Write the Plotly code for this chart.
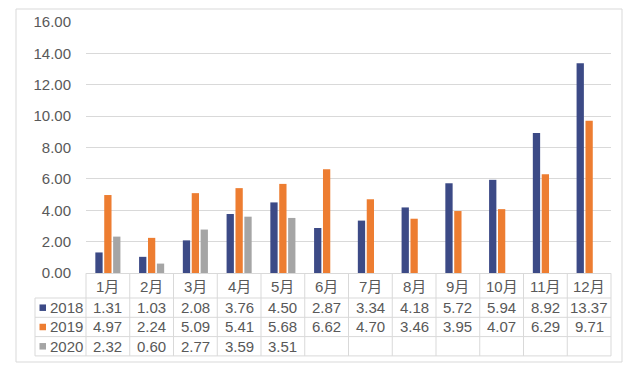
import plotly.graph_objects as go

months = ["1月", "2月", "3月", "4月", "5月", "6月", "7月", "8月", "9月", "10月", "11月", "12月"]
series_names = ["2018", "2019", "2020"]
v2018 = [1.31, 1.03, 2.08, 3.76, 4.50, 2.87, 3.34, 4.18, 5.72, 5.94, 8.92, 13.37]
v2019 = [4.97, 2.24, 5.09, 5.41, 5.68, 6.62, 4.70, 3.46, 3.95, 4.07, 6.29, 9.71]
v2020 = [2.32, 0.60, 2.77, 3.59, 3.51, None, None, None, None, None, None, None]
y_ticks = [0, 2, 4, 6, 8, 10, 12, 14, 16]

series = [v2018, v2019, v2020]
colors = ["#3C4A86", "#ED7D31", "#A5A5A5"]

W, H = 640, 365
ML, MR, MT, MB = 86, 29, 22, 92
PW = W - ML - MR
PH = H - MT - MB
FONT = "Liberation Sans, Arial, Noto Sans CJK SC, sans-serif"
TXT = "#595959"
LINE = "#D9D9D9"
FS = 15

def px_x(px):
    return (px - ML) / PW

def px_y(py):
    return (H - MB - py) / PH

n = len(months)
def cat_x(i):
    return (i + 0.5) / n

fig = go.Figure()
for name, vals, col in zip(series_names, series, colors):
    fig.add_trace(go.Bar(x=months, y=vals, name=name, marker_color=col,
                         marker_line_width=0, showlegend=False))

fig.update_layout(
    width=W, height=H,
    margin=dict(l=ML, r=MR, t=MT, b=MB, pad=0, autoexpand=False),
    paper_bgcolor="white", plot_bgcolor="white",
    barmode="group", bargap=0.39, bargroupgap=0.18,
    font=dict(family=FONT, size=FS, color=TXT),
    xaxis=dict(type="category", range=[-0.5, n - 0.5], showticklabels=False,
               showgrid=False, showline=True, linecolor=LINE, linewidth=1,
               ticks="", zeroline=False, automargin=False),
    yaxis=dict(range=[0, 16], tickvals=y_ticks, tickformat=".2f",
               showgrid=True, gridcolor=LINE, gridwidth=1, zeroline=False,
               showline=False, ticks="", ticklabelstandoff=14, automargin=False,
               tickfont=dict(size=FS, color=TXT)),
)

shapes = []
shapes.append(dict(type="rect", xref="paper", yref="paper",
                   x0=px_x(16), x1=px_x(622), y0=px_y(362), y1=px_y(9),
                   line=dict(color=LINE, width=1), fillcolor="rgba(0,0,0,0)", layer="below"))

TOP = 273.3
HEADER_H = 24.7
ROW_H = 19.3
row_edges = [TOP + HEADER_H + k * ROW_H for k in range(len(series_names) + 1)]
LEG_LEFT = 35
BOTTOM = row_edges[-1]

for k in range(n + 1):
    shapes.append(dict(type="line", xref="paper", yref="paper",
                       x0=k / n, x1=k / n, y0=px_y(TOP), y1=px_y(BOTTOM),
                       line=dict(color=LINE, width=1)))
shapes.append(dict(type="line", xref="paper", yref="paper",
                   x0=px_x(LEG_LEFT), x1=px_x(LEG_LEFT), y0=px_y(row_edges[0]), y1=px_y(BOTTOM),
                   line=dict(color=LINE, width=1)))
for e in row_edges:
    shapes.append(dict(type="line", xref="paper", yref="paper",
                       x0=px_x(LEG_LEFT), x1=1, y0=px_y(e), y1=px_y(e),
                       line=dict(color=LINE, width=1)))

annotations = []
for i, m in enumerate(months):
    annotations.append(dict(xref="paper", yref="paper", x=cat_x(i), y=px_y(TOP + HEADER_H / 2 + 0.5),
                            text=m, showarrow=False, xanchor="center", yanchor="middle",
                            font=dict(size=FS, color=TXT, family=FONT)))
for r, (name, vals, col) in enumerate(zip(series_names, series, colors)):
    yc = (row_edges[r] + row_edges[r + 1]) / 2
    for i, v in enumerate(vals):
        if v is None:
            continue
        annotations.append(dict(xref="paper", yref="paper", x=cat_x(i), y=px_y(yc),
                                text=f"{v:.2f}", showarrow=False, xanchor="center", yanchor="middle",
                                font=dict(size=FS, color=TXT, family=FONT)))
    shapes.append(dict(type="rect", xref="paper", yref="paper",
                       x0=px_x(39.5), x1=px_x(46), y0=px_y(yc + 3.3), y1=px_y(yc - 3.2),
                       fillcolor=col, line=dict(width=0)))
    annotations.append(dict(xref="paper", yref="paper", x=px_x(48), y=px_y(yc),
                            text=name, showarrow=False, xanchor="left", yanchor="middle",
                            font=dict(size=FS, color=TXT, family=FONT)))

fig.update_layout(shapes=shapes, annotations=annotations)
fig.write_html("out.html", config={"displayModeBar": False},
               post_script="document.body.style.margin='0';document.body.style.padding='0';document.body.style.overflow='hidden';")
